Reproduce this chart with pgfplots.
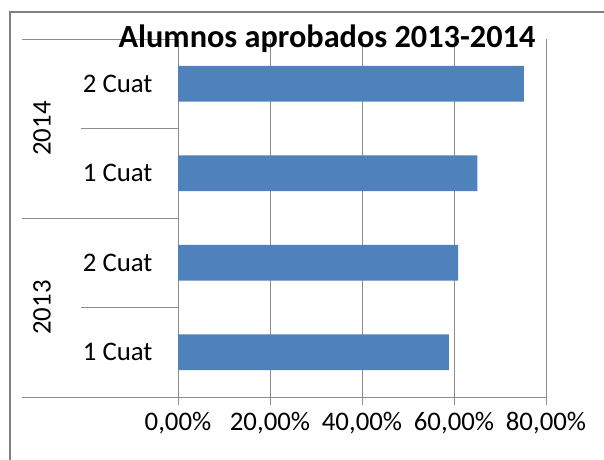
\documentclass[border=0pt]{standalone}
\usepackage{pgfplots}
\pgfplotsset{compat=1.18}
\usepackage{fontspec}
\setmainfont{Carlito}
\definecolor{barblue}{HTML}{4F81BD}
\definecolor{gridgray}{HTML}{8C8C8C}
\definecolor{framegray}{HTML}{7F7F7F}
\begin{document}
\begin{tikzpicture}[x=1pt,y=1pt]
\useasboundingbox (0,0) rectangle (604,459);
\begin{scope}
\clip (0,0) rectangle (604,459);
\draw[framegray, line width=2pt] (10,-20) -- (10,447) -- (620,447);
\end{scope}
\begin{axis}[
  at={(178pt,62pt)}, anchor=south west,
  scale only axis, width=368pt, height=358pt,
  xmin=0, xmax=80, ymin=0.5, ymax=4.5,
  xbar, bar width=0.4,
  axis x line=bottom, axis y line=left,
  axis line style={gridgray, -, line width=1pt},
  xtick={0,20,40,60,80},
  xticklabels={{0,00\%},{20,00\%},{40,00\%},{60,00\%},{80,00\%}},
  xtick align=outside, major tick length=8pt,
  xtick style={gridgray, line width=1pt},
  ytick={1,2,3,4},
  yticklabels={1 Cuat,2 Cuat,1 Cuat,2 Cuat},
  ytick style={draw=none},
  xmajorgrids, major grid style={gridgray, line width=1pt},
  tick label style={font=\fontsize{26.8}{31}\selectfont, text=black},
  yticklabel style={anchor=east, xshift=-18pt},
  xticklabel style={anchor=north, yshift=-4pt},
  clip=false,
]
\addplot[fill=barblue, draw=none] coordinates {(58.9,1) (60.9,2) (65.1,3) (75.2,4)};
\draw[gridgray, line width=1pt] ([xshift=-156pt]axis cs:0,4.5) -- (axis cs:0,4.5);
\draw[gridgray, line width=1pt] ([xshift=-156pt]axis cs:0,2.5) -- (axis cs:0,2.5);
\draw[gridgray, line width=1pt] ([xshift=-156pt]axis cs:0,0.5) -- (axis cs:0,0.5);
\draw[gridgray, line width=1pt] ([xshift=-97pt]axis cs:0,3.5) -- (axis cs:0,3.5);
\draw[gridgray, line width=1pt] ([xshift=-97pt]axis cs:0,1.5) -- (axis cs:0,1.5);
\node[rotate=90, font=\fontsize{26.8}{31}\selectfont] at ([xshift=-136pt]axis cs:0,3.5) {2014};
\node[rotate=90, font=\fontsize{26.8}{31}\selectfont] at ([xshift=-136pt]axis cs:0,1.5) {2013};
\end{axis}
\node[font=\bfseries\fontsize{32.3}{38}\selectfont] at (327,420) {Alumnos aprobados 2013-2014};
\end{tikzpicture}
\end{document}
